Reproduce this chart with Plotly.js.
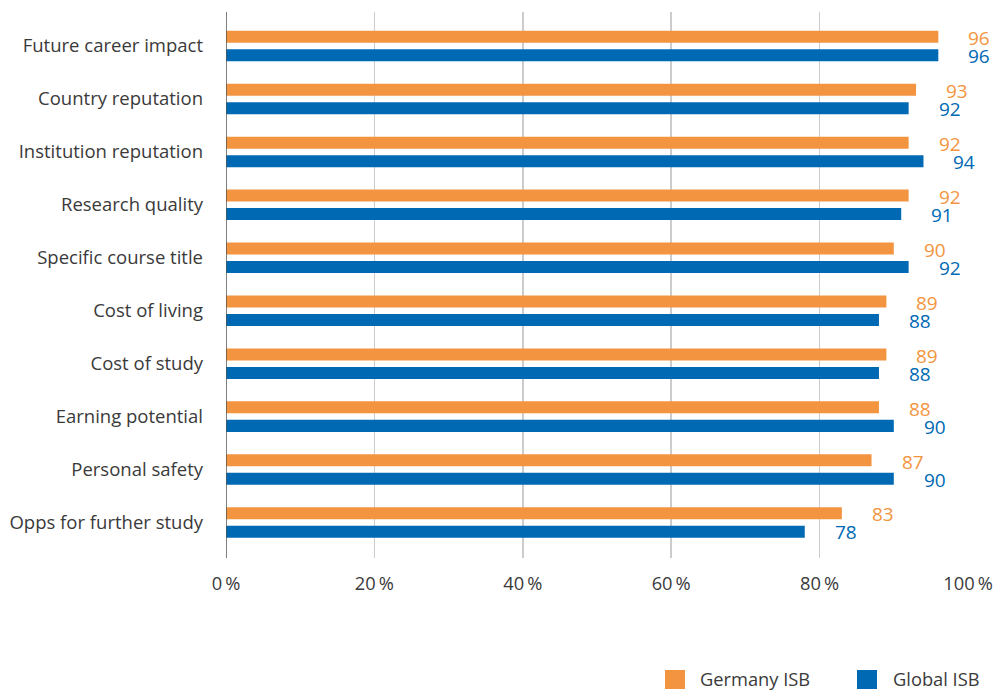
<!DOCTYPE html>
<html>
<head>
<meta charset="utf-8">
<script src="https://cdn.plot.ly/plotly-3.0.1.min.js"></script>
<style>html,body{margin:0;padding:0;background:#fff;}#chart{width:997px;height:691px;}</style>
</head>
<body>
<div id="chart"></div>
<script>
const categories = ["Future career impact","Country reputation","Institution reputation","Research quality","Specific course title","Cost of living","Cost of study","Earning potential","Personal safety","Opps for further study"];
const germanyISB = [96,93,92,92,90,89,89,88,87,83];
const globalISB = [96,92,94,91,92,88,88,90,90,78];
const seriesNames = ["Germany ISB","Global ISB"];
const tickValues = [0,20,40,60,80,100];
const tickLabels = ["0\u2009%","20\u2009%","40\u2009%","60\u2009%","80\u2009%","100\u2009%"];

const ORANGE = "#F39540";
const BLUE = "#0069B4";
const FONT = "Open Sans, sans-serif";
const TXT = "#3a3a3a";

const W = 997, H = 691;
const L = 226, R = 968, T = 12, B = 558;

const barW = 0.227;
const traces = [
  {type:"bar", orientation:"h", name:seriesNames[0], y:categories, x:germanyISB,
   marker:{color:ORANGE}, width:barW, offset:-0.288, showlegend:false, hoverinfo:"x+name"},
  {type:"bar", orientation:"h", name:seriesNames[1], y:categories, x:globalISB,
   marker:{color:BLUE}, width:barW, offset:0.062, showlegend:false, hoverinfo:"x+name"}
];

const annotations = [];
categories.forEach((c,i)=>{
  annotations.push({x:germanyISB[i], y:c, xref:"x", yref:"y", text:String(germanyISB[i]),
    showarrow:false, xanchor:"left", yanchor:"middle", xshift:28, yshift:8,
    font:{family:FONT,size:19,color:ORANGE}});
  annotations.push({x:globalISB[i], y:c, xref:"x", yref:"y", text:String(globalISB[i]),
    showarrow:false, xanchor:"left", yanchor:"middle", xshift:28, yshift:-10,
    font:{family:FONT,size:19,color:BLUE}});
});

// manual legend
const px = v => (v - L)/(R - L);
const py = v => (B - v)/(B - T);
const legendItems = [
  {name:seriesNames[0], color:ORANGE, sx:665, tx:698},
  {name:seriesNames[1], color:BLUE, sx:857, tx:891}
];
const shapes = [];
legendItems.forEach(it=>{
  shapes.push({type:"rect", xref:"paper", yref:"paper", x0:px(it.sx), x1:px(it.sx+20),
    y0:py(689), y1:py(670), fillcolor:it.color, line:{width:0}});
  annotations.push({xref:"paper", yref:"paper", x:px(it.tx), y:py(678), text:it.name,
    showarrow:false, xanchor:"left", yanchor:"middle", font:{family:FONT,size:18.3,color:TXT}});
});

const layout = {
  width:W, height:H,
  margin:{l:L, r:W-R, t:T, b:H-B, pad:0},
  paper_bgcolor:"#fff", plot_bgcolor:"#fff",
  barmode:"overlay",
  font:{family:FONT, size:18.5, color:TXT},
  xaxis:{range:[0,100], tickvals:tickValues, ticktext:tickLabels, showgrid:true,
    gridcolor:"#cccccc", gridwidth:1.5, zeroline:false, showline:false, ticks:"",
    ticklabelstandoff:13, tickfont:{family:FONT,size:18.3,color:TXT}, fixedrange:true},
  yaxis:{type:"category", range:[9.671,-0.642], showgrid:false, zeroline:false,
    showline:false, ticks:"", ticklabelstandoff:22, tickfont:{family:FONT,size:18.5,color:TXT}, fixedrange:true},
  shapes: shapes.concat([{type:"line", xref:"x", yref:"paper", x0:0, x1:0, y0:0, y1:1,
    line:{color:"#555555", width:1.5}, layer:"above"}]),
  annotations: annotations,
  showlegend:false
};

Plotly.newPlot("chart", traces, layout, {displayModeBar:false, staticPlot:true});
</script>
</body>
</html>
